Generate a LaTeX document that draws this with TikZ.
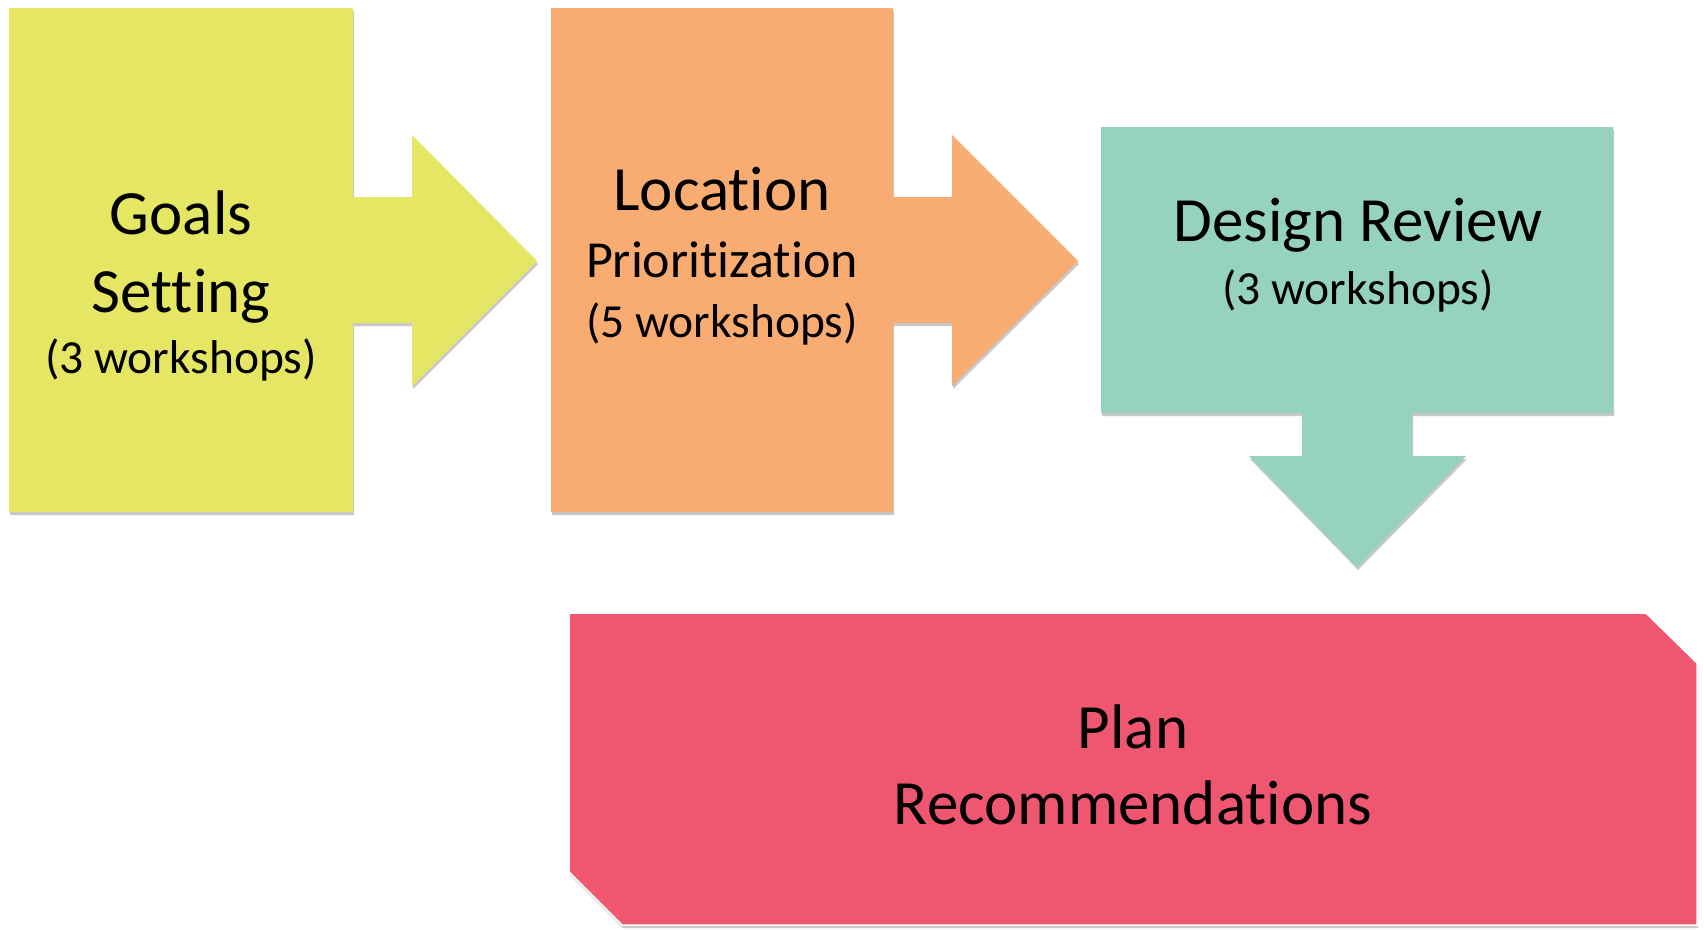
\documentclass[tikz,border=0pt]{standalone}
\usepackage{fontspec}
\setmainfont{Carlito}[Ligatures=NoCommon]
\usetikzlibrary{shadows}
\definecolor{goalfill}{RGB}{230,230,101}
\definecolor{locfill}{RGB}{249,172,114}
\definecolor{designfill}{RGB}{150,211,189}
\definecolor{planfill}{RGB}{239,87,112}
\tikzset{
  stage/.style={drop shadow={shadow xshift=1pt,shadow yshift=-3pt,opacity=0.3,fill=black!70}},
  bigtext/.style={anchor=base,font=\fontsize{63}{70}\selectfont},
  midtext/.style={anchor=base,font=\fontsize{52}{60}\selectfont},
  smalltext/.style={anchor=base,font=\fontsize{47.5}{55}\selectfont},
}
\begin{document}
\begin{tikzpicture}[x=1pt,y=-1pt]
\useasboundingbox (0,0) rectangle (1704,929);
\fill[white] (0,0) rectangle (1704,929);

% stage 1: box with right-pointing arrow
\fill[goalfill,stage] (9,8) -- (353,8) -- (353,197) -- (412,197) -- (412,135)
  -- (537,261) -- (412,386) -- (412,323) -- (353,323) -- (353,512) -- (9,512) -- cycle;
% stage 2
\fill[locfill,stage] (551,8) -- (893,8) -- (893,197) -- (952,197) -- (952,135)
  -- (1078,261) -- (952,386) -- (952,323) -- (893,323) -- (893,512) -- (551,512) -- cycle;
% stage 3: box with downward arrow
\fill[designfill,stage] (1101,127) -- (1613,127) -- (1613,413) -- (1412,413) -- (1412,456)
  -- (1466,456) -- (1357,567) -- (1249,456) -- (1302,456) -- (1302,413) -- (1101,413) -- cycle;
% outcome: snipped-corner panel
\filldraw[fill=planfill,draw=white,line width=1.5pt,stage] (569,613) -- (1646,613) -- (1697,663)
  -- (1697,925) -- (622,925) -- (569,872) -- cycle;

% labels
\node[bigtext]   (g1) at (181,234) {Goals};
\node[bigtext]   (g2) at (181,312) {Setting};
\node[smalltext] (g3) at (181,373) {(3 workshops)};

\node[bigtext]   (l1) at (722,210) {Location};
\node[midtext]   (l2) at (722,277) {Prioritization};
\node[smalltext] (l3) at (722,337) {(5 workshops)};

\node[bigtext]   (d1) at (1358,241) {Design Review};
\node[smalltext] (d2) at (1358,304) {(3 workshops)};

\node[bigtext]   (p1) at (1133,748) {Plan};
\node[bigtext]   (p2) at (1133,824) {Recommendations};
\end{tikzpicture}
\end{document}
